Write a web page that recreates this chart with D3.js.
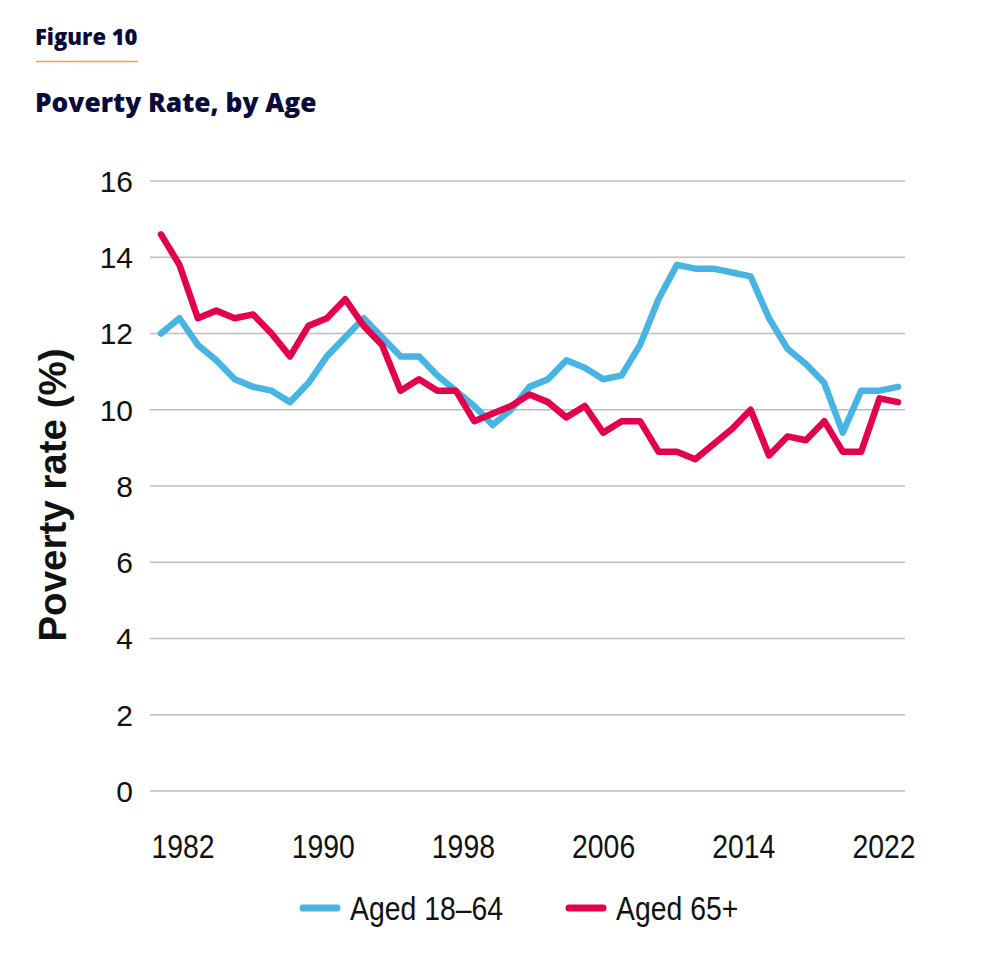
<!DOCTYPE html>
<html lang="en">
<head>
  <meta charset="UTF-8">
  <title>Poverty Rate, by Age</title>
  <script src="https://d3js.org/d3.v7.min.js"></script>
  <style>
    body { margin: 0; background: #fff; }
    .head { font-family: "Open Sans", Roboto, sans-serif; font-weight: 800; fill: #0b0b3b; }
    .grid line { stroke: #bdbdbd; stroke-width: 1.5px; }
    .ytick { font: 30px "Liberation Sans", Arial, sans-serif; fill: #111; }
    .xtick, .legend text { font: 33px "Liberation Sans", Arial, sans-serif; fill: #111; }
    .line { fill: none; stroke-width: 6.5px; stroke-linejoin: round; stroke-linecap: round; }
  </style>
</head>
<body>
  <svg></svg>
  <script>
    const years = d3.range(1982, 2023);
    const aged18to64 = [12.0, 12.4, 11.7, 11.3, 10.8, 10.6, 10.5, 10.2, 10.7, 11.4,
                        11.9, 12.4, 11.9, 11.4, 11.4, 10.9, 10.5, 10.1, 9.6, 10.0,
                        10.6, 10.8, 11.3, 11.1, 10.8, 10.9, 11.7, 12.9, 13.8, 13.7,
                        13.7, 13.6, 13.5, 12.4, 11.6, 11.2, 10.7, 9.4, 10.5, 10.5, 10.6];
    const aged65plus = [14.6, 13.8, 12.4, 12.6, 12.4, 12.5, 12.0, 11.4, 12.2, 12.4,
                        12.9, 12.2, 11.7, 10.5, 10.8, 10.5, 10.5, 9.7, 9.9, 10.1,
                        10.4, 10.2, 9.8, 10.1, 9.4, 9.7, 9.7, 8.9, 8.9, 8.7,
                        9.1, 9.5, 10.0, 8.8, 9.3, 9.2, 9.7, 8.9, 8.9, 10.3, 10.2];
    const xLabels = ["1982", "1990", "1998", "2006", "2014", "2022"];
    const yTicks = [0, 2, 4, 6, 8, 10, 12, 14, 16];
    const seriesNames = ["Aged 18\u201364", "Aged 65+"];
    const colors = ["#48b4e3", "#e5004c"];

    const width = 987, height = 980;
    const narrow = 0.86; // condensed look of axis/legend type
    const svg = d3.select("svg").attr("width", width).attr("height", height);

    // header
    svg.append("text").attr("class", "head").attr("x", 35).attr("y", 45)
        .style("font-size", "22px").text("Figure 10");
    svg.append("line").attr("x1", 36).attr("x2", 138).attr("y1", 61.5).attr("y2", 61.5)
        .attr("stroke", "#f3a13a").attr("stroke-width", 1.5);
    svg.append("text").attr("class", "head").attr("x", 35).attr("y", 112)
        .style("font-size", "26.3px").text("Poverty Rate, by Age");

    const x = d3.scaleLinear().domain([1982, 2022]).range([161, 898]);
    const y = d3.scaleLinear().domain([0, 16]).range([791, 181]);
    // category labels sit evenly under the plot, not on the data years
    const xl = d3.scalePoint().domain(xLabels).range([183, 884]);

    const grid = svg.append("g").attr("class", "grid");
    grid.selectAll("line").data(yTicks).join("line")
        .attr("x1", 150).attr("x2", 905)
        .attr("y1", d => y(d)).attr("y2", d => y(d));

    svg.append("g").selectAll("text").data(yTicks).join("text")
        .attr("class", "ytick")
        .attr("x", 133).attr("y", d => y(d)).attr("dy", "0.36em")
        .attr("text-anchor", "end").text(d => d);

    svg.append("g").selectAll("text").data(xLabels).join("text")
        .attr("class", "xtick")
        .attr("transform", d => `translate(${xl(d)},858) scale(${narrow},1)`)
        .attr("text-anchor", "middle").text(d => d);

    svg.append("text")
        .attr("transform", "translate(66,495) rotate(-90)")
        .attr("text-anchor", "middle")
        .style("font", "bold 38.5px 'Liberation Sans', Arial, sans-serif")
        .style("fill", "#111")
        .text("Poverty rate (%)");

    const line = d3.line().x((d, i) => x(years[i])).y(d => y(d));
    [aged18to64, aged65plus].forEach((s, k) => {
        svg.append("path").attr("class", "line")
            .attr("stroke", colors[k]).attr("d", line(s));
    });

    // legend
    const legendX = [300, 566];
    const lg = svg.append("g").attr("class", "legend");
    seriesNames.forEach((name, k) => {
        lg.append("line")
            .attr("x1", legendX[k] + 3).attr("x2", legendX[k] + 37)
            .attr("y1", 908).attr("y2", 908)
            .attr("stroke", colors[k]).attr("stroke-width", 7)
            .attr("stroke-linecap", "round");
        lg.append("text")
            .attr("transform", `translate(${legendX[k] + 50},920) scale(${narrow},1)`)
            .text(name);
    });
  </script>
</body>
</html>
